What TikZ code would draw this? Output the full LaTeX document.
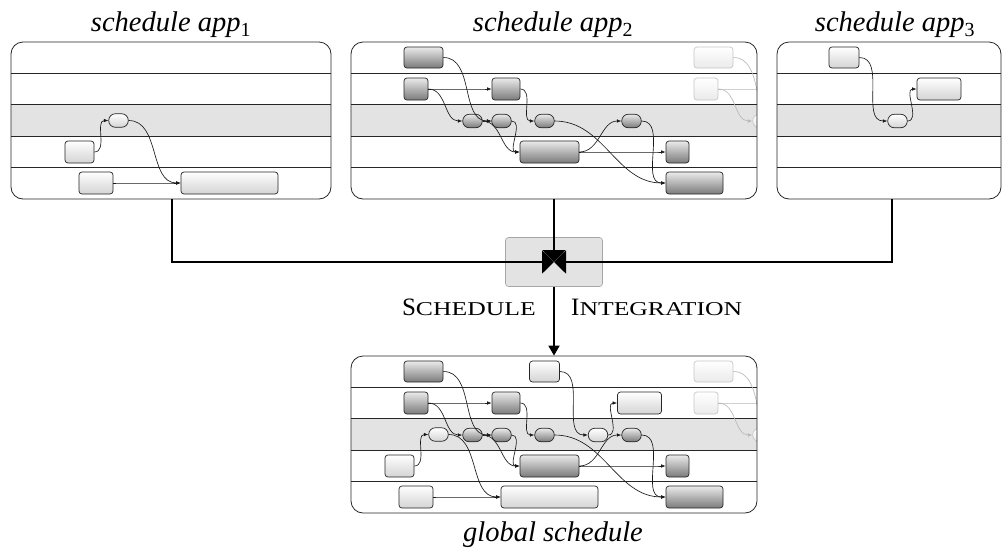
\documentclass[tikz,border=0pt]{standalone}
\usepackage{fontspec}
\usepackage{graphicx}
\setmainfont{Liberation Serif}
\usetikzlibrary{arrows.meta}

\tikzset{
  lanefill/.style={fill=black!11},
  laneline/.style={draw=black!85, line width=0.8pt},
  panel/.style={draw=black!85, line width=0.8pt, rounded corners=12pt,
    minimum height=157pt, inner sep=0pt},
  task/.style={rectangle, draw=black!85, line width=0.7pt, rounded corners=3pt,
    inner sep=0pt, minimum height=22pt},
  oval/.style={task, rounded corners=6.5pt, minimum width=19.5pt, minimum height=13.5pt},
  light/.style={top color=white, bottom color=black!17},
  dark/.style={top color=black!8, bottom color=black!52},
  ghost/.style={draw=black!22, top color=white, bottom color=black!8},
  flow/.style={draw=black!90, line width=0.65pt,
    -{Latex[length=4.5pt,width=3.6pt]}, out=0, in=180},
  ghostflow/.style={flow, draw=black!28},
  feed/.style={draw=black, line width=1.8pt, -{Triangle[length=12pt,width=23pt]}},
  merge/.style={draw=black, line width=1.8pt, -{Triangle[length=10pt,width=11pt]}},
  title/.style={font=\fontsize{28.5}{32}\selectfont\itshape, anchor=base, inner sep=0pt},
  caps/.style={inner sep=0pt},
}

% five swim lanes of a panel, the middle one shaded
\newcommand{\swimlanes}[3]{%
  \fill[lanefill] (#1,{#3+62.8}) rectangle (#2,{#3+94.2});
  \foreach \k in {1,...,4} \draw[laneline] (#1,{#3+31.4*\k}) -- (#2,{#3+31.4*\k});
}

% tasks of the first application
\newcommand{\appone}[1]{%
  \node[oval,light] (#1o) at (118.5,120.5) {};
  \node[task,light,minimum width=29pt] (#1p) at (79.5,152) {};
  \node[task,light,minimum width=34pt] (#1q) at (96,183) {};
  \node[task,light,minimum width=97pt] (#1r) at (229.5,183) {};
  \draw[flow] (#1p.east) to (#1o.west);
  \draw[flow] (#1o.east) to (#1r.west);
  \draw[flow] (#1q.east) to (#1r.west);
}

% tasks of the second application, with the start of its next period
\newcommand{\apptwo}[1]{%
  \node[task,dark,minimum width=39pt,minimum height=21pt] (#1A) at (423.5,57.5) {};
  \node[task,dark,minimum width=24pt] (#1B) at (416,89) {};
  \node[task,dark,minimum width=28pt] (#1C) at (506,89) {};
  \node[oval,dark] (#1D) at (472.5,121) {};
  \node[oval,dark] (#1E) at (501.5,121) {};
  \node[oval,dark] (#1F) at (544.5,121) {};
  \node[oval,dark] (#1G) at (631.5,121) {};
  \node[task,dark,minimum width=59pt] (#1H) at (549.5,152) {};
  \node[task,dark,minimum width=23pt] (#1I) at (677.5,152) {};
  \node[task,dark,minimum width=57pt] (#1J) at (694.5,183) {};
  \draw[flow] (#1A.east) to (#1E.west);
  \draw[flow] (#1B.east) to (#1C.west);
  \draw[flow] (#1B.east) to (#1D.west);
  \draw[flow] (#1D.east) to (#1E.west);
  \draw[flow] (#1D.east) to (#1H.west);
  \draw[flow] (#1E.east) to (#1H.west);
  \draw[flow] (#1C.east) to (#1F.west);
  \draw[flow] (#1H.east) to (#1G.west);
  \draw[flow] (#1H.east) to (#1I.west);
  \draw[flow] (#1F.east) to (#1J.west);
  \draw[flow] (#1G.east) to (#1J.west);
  \begin{scope}
    \clip (351,42) rectangle (757,199);
    \node[task,ghost,minimum width=39pt,minimum height=21pt] (#1K) at (713.5,57.5) {};
    \node[task,ghost,minimum width=24pt] (#1L) at (706,89) {};
    \node[oval,ghost] (#1M) at (762.5,121) {};
    \node[oval,ghost] (#1N) at (791.5,121) {};
    \coordinate (#1R) at (782,89);
    \draw[ghostflow] (#1K.east) to (#1N.west);
    \draw[ghostflow] (#1L.east) to (#1M.west);
    \draw[ghostflow] (#1L.east) to (#1R);
  \end{scope}
}

% tasks of the third application
\newcommand{\appthree}[1]{%
  \node[task,light,minimum width=30pt,minimum height=21pt] (#1a) at (844,57.5) {};
  \node[oval,light] (#1b) at (897.5,121) {};
  \node[task,light,minimum width=44pt] (#1c) at (939,89) {};
  \draw[flow] (#1a.east) to (#1b.west);
  \draw[flow] (#1b.east) to (#1c.west);
}

\begin{document}
\begin{tikzpicture}[x=1pt,y=-1pt]
\useasboundingbox (0,0) rectangle (1002,550);

% application schedules
\swimlanes{11}{331}{42}
\swimlanes{351}{757}{42}
\swimlanes{777}{1001}{42}
\appone{a}
\apptwo{b}
\appthree{c}
\node[panel,minimum width=320pt] (P1) at (171,120.5) {};
\node[panel,minimum width=406pt] (P2) at (554,120.5) {};
\node[panel,minimum width=224pt] (P3) at (889,120.5) {};

\node[title] (t1) at (171,31.5) {schedule app\textsubscript{\upshape 1}};
\node[title] (t2) at (553,31.5) {schedule app\textsubscript{\upshape 2}};
\node[title] (t3) at (895,31.5) {schedule app\textsubscript{\upshape 3}};

% integration step
\node[fill=black!11, draw=black!35, line width=0.6pt, rounded corners=3pt,
  minimum width=97pt, minimum height=49pt] (X) at (554,262) {};
\draw[feed] ([xshift=1pt]P1.south) |- (X.center);
\draw[feed] (P2.south) -- (X.center);
\draw[feed] ([xshift=3pt]P3.south) |- (X.center);

\node[caps, anchor=base east] (l1) at (536,315)
  {\fontsize{25}{30}\selectfont S\fontsize{19.6}{24}\selectfont\scalebox{1.31}[1]{CHEDULE}};
\node[caps, anchor=base west] (l2) at (571,315)
  {\fontsize{25}{30}\selectfont I\fontsize{19.6}{24}\selectfont\scalebox{1.31}[1]{NTEGRATION}};

% global schedule
\swimlanes{351}{757}{356}
\begin{scope}[shift={(0,314)}]
  \apptwo{g}
\end{scope}
\begin{scope}[shift={(320,314)}]
  \appone{h}
\end{scope}
\begin{scope}[shift={(-299.5,314)}]
  \appthree{k}
\end{scope}
\node[panel,minimum width=406pt] (PG) at (554,434.5) {};
\draw[merge] (X.south) -- (PG.north);

\node[title] (tg) at (553,541) {global schedule};
\end{tikzpicture}
\end{document}
